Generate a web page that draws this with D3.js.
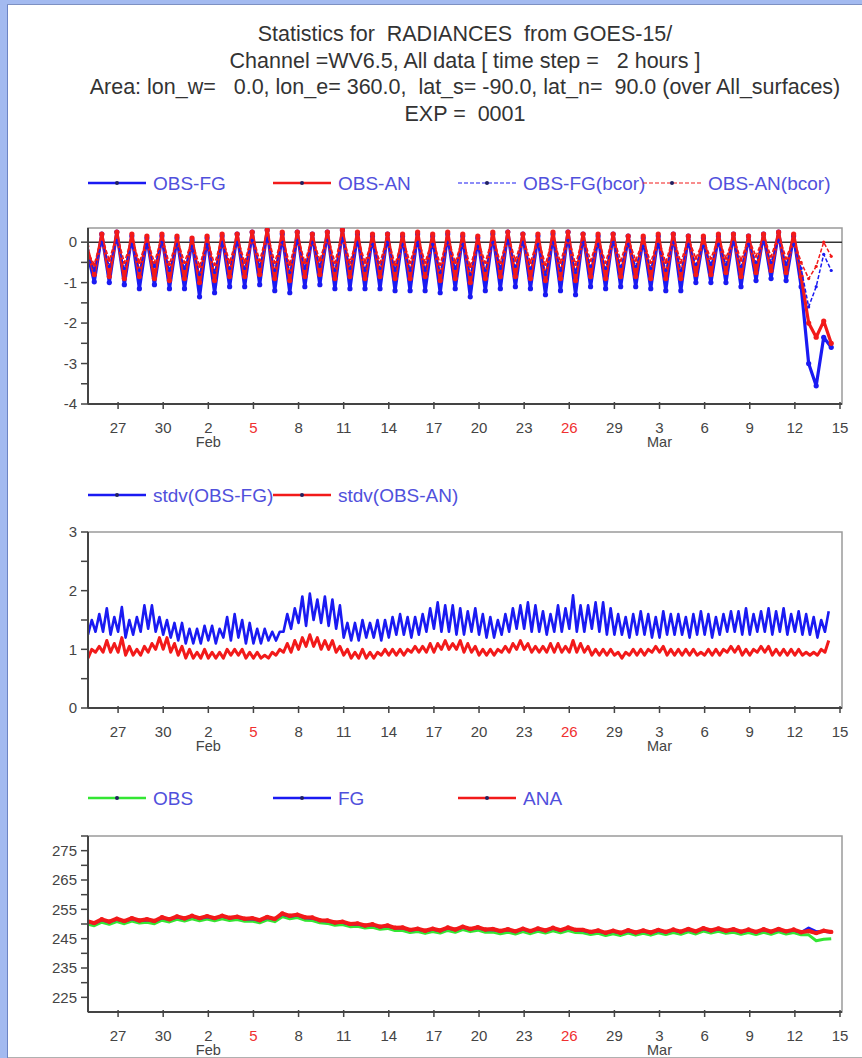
<!DOCTYPE html>
<html>
<head>
<meta charset="utf-8">
<script src="https://cdn.jsdelivr.net/npm/d3@7"></script>
<style>
  body { margin: 0; background: #fff; }
  svg { display: block; }
  text { font-family: "Liberation Sans", Arial, sans-serif; }
</style>
</head>
<body>
<svg id="chart" width="862" height="1058"></svg>
<script>
// title lines
const titleLines = [
  'Statistics for  RADIANCES  from GOES-15/',
  'Channel =WV6.5, All data [ time step =   2 hours ]',
  'Area: lon_w=   0.0, lon_e= 360.0,  lat_s= -90.0, lat_n=  90.0 (over All_surfaces)',
  'EXP =  0001'
];

// time axis: labelled every 3 days, 27 Jan .. 15 Mar 2012
const tickDays = [27, 30, 33, 36, 39, 42, 45, 48, 51, 54, 57, 60, 63, 66, 69, 72, 75]; // days since 1 Jan
const monthNames = ['Jan', 'Feb', 'Mar'];

// panel 1 : bias, one pair (22h value, 10h value) per day, from 24 Jan 22h every 12 h
const obsFg = [-0.2,-0.98, 0.2,-1.0, 0.25,-1.05, 0.15,-1.15, 0.1,-1.05, 0.15,-1.15, 0.1,-1.15, 0.05,-1.35, 0.1,-1.25, 0.15,-1.1,
  0.2,-1.1, 0.25,-1.05, 0.3,-1.2, 0.2,-1.25, 0.25,-1.1, 0.2,-1.05, 0.25,-1.15, 0.3,-1.15, 0.2,-1.15, 0.15,-1.15,
  0.2,-1.2, 0.15,-1.2, 0.2,-1.2, 0.15,-1.25, 0.2,-1.15, 0.15,-1.35, 0.1,-1.2, 0.2,-1.15, 0.25,-1.1, 0.2,-1.15,
  0.15,-1.3, 0.2,-1.2, 0.25,-1.3, 0.2,-1.1, 0.15,-1.15, 0.2,-1.1, 0.15,-1.1, 0.1,-1.15, 0.15,-1.2, 0.2,-1.2,
  0.15,-1.0, 0.1,-1.0, 0.15,-1.0, 0.2,-1.1, 0.15,-0.95, 0.2,-0.9, 0.25,-0.95, 0.15,-1.1, -3.0,-3.55, -2.35,-2.6];
const obsAn = [-0.1,-0.8, 0.2,-0.85, 0.25,-0.9, 0.2,-0.85, 0.15,-0.9, 0.2,-0.95, 0.15,-0.9, 0.1,-1.0, 0.15,-0.95, 0.2,-0.85,
  0.2,-0.85, 0.25,-0.8, 0.3,-0.9, 0.25,-0.95, 0.25,-0.85, 0.2,-0.8, 0.25,-0.9, 0.3,-0.85, 0.25,-0.9, 0.2,-0.85,
  0.2,-0.9, 0.2,-0.9, 0.25,-0.85, 0.2,-0.95, 0.25,-0.9, 0.2,-1.0, 0.15,-0.9, 0.25,-0.85, 0.25,-0.85, 0.2,-0.9,
  0.2,-0.95, 0.25,-0.9, 0.25,-0.95, 0.2,-0.85, 0.2,-0.9, 0.2,-0.85, 0.15,-0.85, 0.15,-0.9, 0.2,-0.9, 0.2,-0.9,
  0.15,-0.8, 0.15,-0.8, 0.2,-0.75, 0.2,-0.85, 0.15,-0.75, 0.2,-0.7, 0.25,-0.75, 0.2,-0.85, -2.0,-2.35, -1.95,-2.5];
const obsFgBcor = [-0.3,-0.7, 0.0,-0.6, 0.05,-0.65, -0.05,-0.7, -0.05,-0.6, 0.0,-0.7, -0.05,-0.65, -0.1,-0.8, -0.05,-0.75, 0.0,-0.65,
  0.0,-0.65, 0.05,-0.6, 0.1,-0.7, 0.0,-0.75, 0.05,-0.65, 0.0,-0.6, 0.05,-0.7, 0.1,-0.65, 0.0,-0.7, -0.05,-0.65,
  0.0,-0.7, -0.05,-0.7, 0.0,-0.7, -0.05,-0.75, 0.0,-0.65, -0.05,-0.8, -0.1,-0.7, 0.0,-0.65, 0.05,-0.6, 0.0,-0.65,
  -0.05,-0.8, 0.0,-0.7, 0.05,-0.75, 0.0,-0.6, -0.05,-0.65, 0.0,-0.6, -0.05,-0.6, -0.1,-0.65, -0.05,-0.7, 0.0,-0.7,
  -0.05,-0.55, -0.1,-0.55, -0.05,-0.55, 0.0,-0.6, -0.05,-0.5, 0.0,-0.5, 0.05,-0.55, -0.05,-0.65, -1.6,-1.1, -0.3,-0.7];
const obsAnBcor = [-0.2,-0.55, 0.15,-0.45, 0.2,-0.5, 0.1,-0.5, 0.1,-0.5, 0.15,-0.55, 0.1,-0.5, 0.05,-0.6, 0.1,-0.55, 0.15,-0.5,
  0.15,-0.5, 0.2,-0.45, 0.25,-0.5, 0.15,-0.55, 0.2,-0.5, 0.15,-0.45, 0.2,-0.5, 0.25,-0.5, 0.15,-0.5, 0.1,-0.5,
  0.15,-0.55, 0.1,-0.5, 0.15,-0.5, 0.1,-0.55, 0.15,-0.5, 0.1,-0.6, 0.05,-0.5, 0.15,-0.5, 0.2,-0.45, 0.15,-0.5,
  0.1,-0.55, 0.15,-0.5, 0.2,-0.55, 0.15,-0.45, 0.1,-0.5, 0.15,-0.45, 0.1,-0.45, 0.05,-0.5, 0.1,-0.5, 0.15,-0.5,
  0.1,-0.4, 0.05,-0.4, 0.1,-0.4, 0.15,-0.45, 0.1,-0.35, 0.15,-0.35, 0.2,-0.4, 0.1,-0.5, -0.9,-0.6, 0.0,-0.35];

// panel 2 : standard deviations, from 25 Jan 00h every 6 h
const stdvFg = [1.25,1.5,1.3,1.6, 1.3,1.7,1.25,1.55, 1.3,1.72,1.2,1.5, 1.25,1.55,1.3,1.75, 1.35,1.75,1.3,1.55,
  1.25,1.5,1.2,1.45, 1.15,1.45,1.1,1.35, 1.1,1.35,1.1,1.4, 1.15,1.4,1.1,1.35, 1.2,1.55,1.15,1.6,
  1.2,1.5,1.1,1.45, 1.1,1.35,1.1,1.35, 1.15,1.3,1.15,1.3, 1.3,1.6,1.35,1.7, 1.45,1.9,1.4,1.95,
  1.5,1.85,1.45,1.9, 1.4,1.85,1.35,1.75, 1.2,1.45,1.15,1.45, 1.15,1.5,1.2,1.45, 1.2,1.5,1.15,1.5,
  1.2,1.55,1.25,1.6, 1.25,1.55,1.2,1.55, 1.25,1.6,1.3,1.7, 1.35,1.8,1.3,1.75, 1.3,1.75,1.25,1.7,
  1.25,1.65,1.3,1.7, 1.25,1.6,1.2,1.55, 1.2,1.5,1.25,1.6, 1.3,1.7,1.35,1.75, 1.35,1.8,1.3,1.75,
  1.3,1.65,1.25,1.6, 1.3,1.75,1.3,1.7, 1.35,1.92,1.3,1.75, 1.3,1.75,1.35,1.8, 1.3,1.8,1.25,1.7,
  1.25,1.6,1.25,1.55, 1.2,1.6,1.25,1.65, 1.25,1.6,1.2,1.55, 1.2,1.65,1.25,1.6, 1.25,1.6,1.25,1.55,
  1.2,1.6,1.25,1.65, 1.25,1.6,1.2,1.55, 1.25,1.6,1.3,1.65, 1.3,1.65,1.25,1.7, 1.25,1.6,1.3,1.65,
  1.3,1.7,1.25,1.65, 1.3,1.7,1.25,1.6, 1.3,1.65,1.25,1.6, 1.25,1.55,1.2,1.5, 1.3,1.65];
const stdvAn = [0.85,1.0,0.95,1.05, 0.95,1.15,0.95,1.1, 0.95,1.2,0.9,1.05, 0.9,1.0,0.9,1.05, 0.95,1.1,1.0,1.2,
  1.0,1.2,0.95,1.1, 0.9,1.05,0.85,1.0, 0.85,0.95,0.85,1.0, 0.85,0.95,0.85,0.95, 0.85,1.0,0.9,1.0,
  0.9,1.0,0.85,0.95, 0.85,0.95,0.85,0.9, 0.85,0.95,0.9,1.0, 0.95,1.1,0.95,1.15, 1.0,1.2,1.05,1.25,
  1.05,1.2,1.0,1.15, 1.0,1.15,0.95,1.05, 0.9,1.0,0.85,0.95, 0.85,1.0,0.85,0.95, 0.85,0.95,0.9,1.0,
  0.9,1.0,0.9,1.0, 0.9,1.0,0.95,1.05, 0.95,1.05,0.95,1.1, 0.95,1.1,1.0,1.15, 1.0,1.1,1.0,1.15,
  0.95,1.1,0.95,1.05, 0.9,1.0,0.9,1.0, 0.9,1.0,0.95,1.05, 0.95,1.1,1.0,1.15, 1.0,1.1,0.95,1.05,
  0.95,1.05,0.95,1.1, 0.95,1.1,0.95,1.05, 0.95,1.15,0.95,1.1, 0.95,1.05,0.9,1.0, 0.9,1.0,0.9,1.0,
  0.9,0.95,0.85,0.95, 0.9,1.0,0.9,1.0, 0.9,1.0,0.95,1.05, 0.95,1.05,0.9,1.0, 0.9,1.0,0.9,1.0,
  0.9,1.0,0.9,0.95, 0.9,1.0,0.9,1.0, 0.9,1.0,0.95,1.05, 0.95,1.05,0.9,1.0, 0.9,1.0,0.95,1.05,
  0.95,1.05,0.9,1.0, 0.9,1.0,0.9,1.0, 0.9,1.0,0.9,0.95, 0.9,0.95,0.9,1.0, 0.95,1.15];

// panel 3 : mean radiances, same 12 h steps as panel 1
const obs = [250.0,249.4, 250.6,249.9, 250.8,250.1, 251.0,250.3, 250.6,250.1, 251.3,250.7, 251.6,251.0, 251.8,251.1, 251.7,251.1, 251.8,251.2,
  251.5,250.9, 251.0,250.4, 251.4,250.8, 252.5,251.8, 252.2,251.3, 251.2,250.4, 250.2,249.6, 249.8,249.1, 249.2,248.6, 248.9,248.2,
  248.5,247.8, 247.8,247.1, 247.4,246.8, 247.4,246.9, 247.8,247.2, 248.1,247.4, 247.9,247.2, 247.3,246.7, 247.2,246.6, 247.4,246.7,
  247.5,246.9, 247.7,247.0, 247.8,247.1, 247.0,246.4, 246.8,246.1, 246.7,246.1, 246.9,246.2, 246.8,246.2, 247.0,246.4, 247.1,246.5,
  247.3,246.6, 247.6,246.9, 247.5,246.8, 247.2,246.5, 247.1,246.4, 247.2,246.5, 247.3,246.6, 247.1,246.3, 246.3,244.3, 244.8,245.0];
const fg = [250.8,250.2, 251.4,250.7, 251.6,250.9, 251.8,251.1, 251.4,250.9, 252.1,251.5, 252.4,251.8, 252.6,251.9, 252.5,251.9, 252.6,252.0,
  252.3,251.7, 251.8,251.2, 252.2,251.6, 253.3,252.6, 253.0,252.1, 252.0,251.2, 251.0,250.4, 250.6,249.9, 250.0,249.4, 249.7,249.0,
  249.3,248.6, 248.6,247.9, 248.2,247.6, 248.2,247.7, 248.6,248.0, 248.9,248.2, 248.7,248.0, 248.1,247.5, 248.0,247.4, 248.2,247.5,
  248.3,247.7, 248.5,247.8, 248.6,247.9, 247.8,247.2, 247.6,246.9, 247.5,246.9, 247.7,247.0, 247.6,247.0, 247.8,247.2, 247.9,247.3,
  248.1,247.4, 248.4,247.7, 248.3,247.6, 248.0,247.3, 247.9,247.2, 248.0,247.3, 248.1,247.4, 247.9,247.1, 248.6,247.4, 247.5,247.2];
const ana = [251.0,250.3, 251.6,250.8, 251.8,251.0, 252.0,251.2, 251.6,251.0, 252.3,251.6, 252.6,251.9, 252.8,252.0, 252.7,252.0, 252.8,252.1,
  252.5,251.8, 252.0,251.3, 252.4,251.7, 253.6,252.8, 253.2,252.3, 252.2,251.3, 251.2,250.5, 250.8,250.0, 250.2,249.5, 249.9,249.1,
  249.5,248.7, 248.8,248.0, 248.4,247.7, 248.4,247.8, 248.8,248.1, 249.1,248.3, 248.9,248.1, 248.3,247.6, 248.2,247.5, 248.4,247.6,
  248.5,247.8, 248.7,247.9, 248.8,248.0, 248.0,247.3, 247.8,247.0, 247.7,247.0, 247.9,247.1, 247.8,247.1, 248.0,247.3, 248.1,247.4,
  248.3,247.5, 248.6,247.8, 248.5,247.7, 248.2,247.4, 248.1,247.3, 248.2,247.4, 248.3,247.5, 248.1,247.2, 247.6,246.9, 247.7,247.3];

const HOUR = 3600 * 1000;
const t12 = obsFg.map((v, i) => new Date(Date.UTC(2012, 0, 24, 22) + i * 12 * HOUR));
const t6 = stdvFg.map((v, i) => new Date(Date.UTC(2012, 0, 25, 0) + i * 6 * HOUR));

const BLUE = '#1a1af2', RED = '#f21a1a', GREEN = '#33e633';

const svg = d3.select('#chart');

// window frame
svg.append('rect').attr('width', 862).attr('height', 1058).attr('fill', '#ececee');
svg.append('rect').attr('x', 8).attr('y', 5).attr('width', 854).attr('height', 1052).attr('fill', '#fff');
svg.append('rect').attr('width', 7).attr('height', 1058).attr('fill', '#a3baf0');
svg.append('rect').attr('width', 862).attr('height', 4).attr('fill', '#a3baf0');
svg.append('line').attr('x1', 7.5).attr('x2', 7.5).attr('y1', 4).attr('y2', 1058).attr('stroke', '#6c84c4');
svg.append('line').attr('x1', 7).attr('x2', 862).attr('y1', 4.5).attr('y2', 4.5).attr('stroke', '#7d90c2');
svg.append('line').attr('x1', 8).attr('x2', 862).attr('y1', 1057.5).attr('y2', 1057.5).attr('stroke', '#b0b0b0');

svg.append('g').selectAll('text').data(titleLines).join('text')
  .attr('x', 465).attr('y', (d, i) => 41 + i * 26.5)
  .attr('text-anchor', 'middle')
  .style('white-space', 'pre')
  .attr('font-size', 21.5).attr('fill', '#333')
  .text(d => d);

const x = d3.scaleUtc()
  .domain([new Date(Date.UTC(2012, 0, 25)), new Date(Date.UTC(2012, 2, 15))])
  .range([88, 840]);
const plotLeft = 88, plotRight = 842, plotH = 176;

function panel(opt) {
  const top = opt.top, bottom = top + plotH;
  const y = d3.scaleLinear().domain(opt.yDomain).range([bottom, top]);
  const g = svg.append('g');

  // legend
  opt.series.forEach((s, i) => {
    const lx = plotLeft + i * 185, ly = opt.legendY;
    g.append('line').attr('x1', lx).attr('x2', lx + 58).attr('y1', ly).attr('y2', ly)
      .attr('stroke', s.color).attr('stroke-width', s.legendWidth)
      .attr('stroke-dasharray', s.dash || null);
    g.append('circle').attr('cx', lx + 29).attr('cy', ly).attr('r', 2).attr('fill', '#202060');
    g.append('text').attr('x', lx + 65).attr('y', ly + 7)
      .attr('font-size', 19).attr('fill', '#5050dc').text(s.name);
  });

  const clipId = 'clip' + top;
  svg.append('clipPath').attr('id', clipId).append('rect')
    .attr('x', plotLeft).attr('y', top).attr('width', plotRight - plotLeft).attr('height', plotH);

  // box
  g.append('rect').attr('x', plotLeft).attr('y', top).attr('width', plotRight - plotLeft).attr('height', plotH)
    .attr('fill', 'none').attr('stroke', '#9a9a9a').attr('stroke-width', 1.5);

  if (opt.zeroLine) {
    g.append('line').attr('x1', plotLeft).attr('x2', plotRight).attr('y1', y(0)).attr('y2', y(0))
      .attr('stroke', '#333').attr('stroke-width', 1.5);
  }

  const data = g.append('g').attr('clip-path', 'url(#' + clipId + ')');
  opt.series.forEach(s => {
    const line = d3.line().x((d, i) => x(opt.times[i])).y(d => y(d));
    data.append('path').datum(s.values)
      .attr('fill', 'none').attr('stroke', s.color).attr('stroke-width', s.width)
      .attr('stroke-linejoin', 'round')
      .attr('stroke-dasharray', s.dash || null)
      .attr('d', line);
    if (s.dot) {
      data.append('g').selectAll('circle').data(s.values).join('circle')
        .attr('cx', (d, i) => x(opt.times[i])).attr('cy', d => y(d))
        .attr('r', s.dot).attr('fill', s.color);
    }
  });

  // y axis
  const yAxis = g.append('g');
  yAxis.append('line').attr('x1', plotLeft).attr('x2', plotLeft).attr('y1', top).attr('y2', bottom)
    .attr('stroke', '#444').attr('stroke-width', 2);
  opt.yTicks.forEach(v => {
    yAxis.append('line').attr('x1', plotLeft - 7).attr('x2', plotLeft).attr('y1', y(v)).attr('y2', y(v))
      .attr('stroke', '#444').attr('stroke-width', 1.5);
  });
  opt.yLabels.forEach(v => {
    yAxis.append('text').attr('x', plotLeft - 11).attr('y', y(v)).attr('dy', '0.35em')
      .attr('text-anchor', 'end').attr('font-size', 15).attr('fill', '#444').text(v);
  });

  // x axis
  const xAxis = g.append('g');
  xAxis.append('line').attr('x1', plotLeft).attr('x2', plotRight).attr('y1', bottom).attr('y2', bottom)
    .attr('stroke', '#444').attr('stroke-width', 2);
  tickDays.forEach(dd => {
    const d = new Date(Date.UTC(2012, 0, dd));
    const tx = x(d);
    xAxis.append('line').attr('x1', tx).attr('x2', tx).attr('y1', bottom - 2).attr('y2', bottom + 5)
      .attr('stroke', '#444').attr('stroke-width', 1.5);
    xAxis.append('text').attr('x', tx).attr('y', bottom + 29).attr('text-anchor', 'middle')
      .attr('font-size', 15).attr('fill', d.getUTCDay() === 0 ? '#f03030' : '#444')
      .text(d.getUTCDate());
    if (d.getUTCDate() <= 3) {
      xAxis.append('text').attr('x', tx).attr('y', bottom + 43).attr('text-anchor', 'middle')
        .attr('font-size', 14.5).attr('fill', '#444').text(monthNames[d.getUTCMonth()]);
    }
  });
}

panel({
  top: 228, legendY: 183, yDomain: [-4, 0.35], zeroLine: true, times: t12,
  yTicks: d3.range(-4, 0.01, 0.5), yLabels: [-4, -3, -2, -1, 0],
  series: [
    { name: 'OBS-FG', values: obsFg, color: BLUE, width: 3.2, legendWidth: 2.5, dot: 2.6 },
    { name: 'OBS-AN', values: obsAn, color: RED, width: 3.2, legendWidth: 2.5, dot: 2.6 },
    { name: 'OBS-FG(bcor)', values: obsFgBcor, color: BLUE, width: 1.5, legendWidth: 1.2, dash: '4,2', dot: 1.6 },
    { name: 'OBS-AN(bcor)', values: obsAnBcor, color: RED, width: 1.5, legendWidth: 1.2, dash: '4,2', dot: 1.6 }
  ]
});

panel({
  top: 532, legendY: 495, yDomain: [0, 3], times: t6,
  yTicks: d3.range(0, 3.01, 0.5), yLabels: [0, 1, 2, 3],
  series: [
    { name: 'stdv(OBS-FG)', values: stdvFg, color: BLUE, width: 2.6, legendWidth: 2.5 },
    { name: 'stdv(OBS-AN)', values: stdvAn, color: RED, width: 3, legendWidth: 2.5 }
  ]
});

panel({
  top: 836, legendY: 798, yDomain: [220, 280], times: t12,
  yTicks: d3.range(225, 281, 5), yLabels: [225, 235, 245, 255, 265, 275],
  series: [
    { name: 'OBS', values: obs, color: GREEN, width: 3, legendWidth: 2.5 },
    { name: 'FG', values: fg, color: BLUE, width: 3, legendWidth: 2.5 },
    { name: 'ANA', values: ana, color: RED, width: 4, legendWidth: 2.5, dot: 2.2 }
  ]
});
</script>
</body>
</html>
